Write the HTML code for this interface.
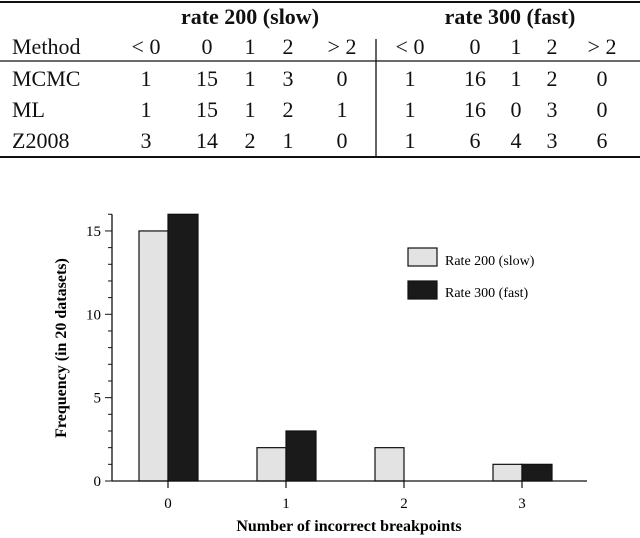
<!DOCTYPE html>
<html><head><meta charset="utf-8"><style>
body{margin:0;background:#fff;width:640px;height:538px;overflow:hidden;font-family:"Liberation Serif",serif}
svg{display:block}
</style></head><body>
<svg width="640" height="538">
<g font-family="Liberation Serif, serif" font-size="22" fill="#111">
<line x1="0" y1="2" x2="640" y2="2" stroke="#111" stroke-width="2"/>
<text x="250" y="24" text-anchor="middle" font-weight="bold">rate 200 (slow)</text>
<text x="510" y="24" text-anchor="middle" font-weight="bold">rate 300 (fast)</text>
<g id="rows"></g>
<line x1="0" y1="61" x2="640" y2="61" stroke="#111" stroke-width="1.3"/>
<line x1="376" y1="39" x2="376" y2="157" stroke="#111" stroke-width="1.3"/>
<line x1="0" y1="157" x2="640" y2="157" stroke="#111" stroke-width="2"/>
</g>
<g id="chart"></g>
</svg>
<script>
const NS="http://www.w3.org/2000/svg";
const tableHeader=["Method","< 0","0","1","2","> 2","< 0","0","1","2","> 2"];
const tableRows=[["MCMC","1","15","1","3","0","1","16","1","2","0"],["ML","1","15","1","2","1","1","16","0","3","0"],["Z2008","3","14","2","1","0","1","6","4","3","6"]];
const colX=[56,146,207,250,288,342,410,475,516,552,602];
const rowsG=document.getElementById('rows');
function txt(p,x,y,s,anchor,extra){const t=document.createElementNS(NS,'text');t.setAttribute('x',x);t.setAttribute('y',y);t.setAttribute('text-anchor',anchor||'middle');t.textContent=s;if(extra)for(const k in extra)t.setAttribute(k,extra[k]);p.appendChild(t);return t;}
tableHeader.forEach((h,i)=>{const t=txt(rowsG,i==0?12:colX[i],54,h,i==0?'start':'middle');

});
tableRows.forEach((r,ri)=>r.forEach((c,i)=>{const t=txt(rowsG,i==0?12:colX[i],86+ri*31,c,i==0?'start':'middle');

}));

const categories=["0","1","2","3"];
const slowValues=[15,2,2,1];
const fastValues=[16,3,0,1];
const yTicks=[0,5,10,15];
const g=document.getElementById('chart');
const x0=112,y0=481,pxPerUnit=16.67,catStart=168,catStep=118,barW=29;
const X=i=>catStart+i*catStep, Y=v=>y0-v*pxPerUnit;
function el(tag,a){const e=document.createElementNS(NS,tag);for(const k in a)e.setAttribute(k,a[k]);g.appendChild(e);return e;}
categories.forEach((c,i)=>{
 if(slowValues[i]>0){const b=el('rect',{x:X(i)-barW,y:Y(slowValues[i]),width:barW,height:y0-Y(slowValues[i]),fill:'#e3e3e3',stroke:'#111','stroke-width':1.2});
 
 }
 if(fastValues[i]>0){const b=el('rect',{x:X(i),y:Y(fastValues[i]),width:barW+1,height:y0-Y(fastValues[i]),fill:'#1a1a1a',stroke:'#111','stroke-width':1.2});
 
 }
 el('line',{x1:X(i),y1:y0,x2:X(i),y2:y0+7,stroke:'#111','stroke-width':1.2});
 const t=txt(g,X(i),y0+27,c,'middle',{'font-size':15,'font-family':'Liberation Serif, serif'});
 
 
});
el('line',{x1:x0,y1:Y(16),x2:x0,y2:y0,stroke:'#111','stroke-width':1.3});
el('line',{x1:x0,y1:y0,x2:587,y2:y0,stroke:'#111','stroke-width':1.3});
for(let v=0;v<=16;v++){el('line',{x1:x0-(v%5==0?7:4),y1:Y(v),x2:x0,y2:Y(v),stroke:'#111','stroke-width':1});}
yTicks.forEach(v=>{const t=txt(g,x0-11,Y(v)+5,String(v),'end',{'font-size':15,'font-family':'Liberation Serif, serif'});
 
 });
const yl=txt(g,0,0,'Frequency (in 20 datasets)','middle',{'font-size':16,'font-weight':'bold','transform':'translate(66,348) rotate(-90)','font-family':'Liberation Serif, serif'});


const xl=txt(g,349,531,'Number of incorrect breakpoints','middle',{'font-size':16,'font-weight':'bold','font-family':'Liberation Serif, serif'});


const l1=el('rect',{x:408,y:248,width:29,height:18,fill:'#e3e3e3',stroke:'#111','stroke-width':1.2});


const l2=el('rect',{x:408,y:281,width:29,height:18,fill:'#1a1a1a',stroke:'#111','stroke-width':1.2});


const lt1=txt(g,445,265,'Rate 200 (slow)','start',{'font-size':14,'font-family':'Liberation Serif, serif'});


const lt2=txt(g,445,297,'Rate 300 (fast)','start',{'font-size':14,'font-family':'Liberation Serif, serif'});


</script>
</body></html>
